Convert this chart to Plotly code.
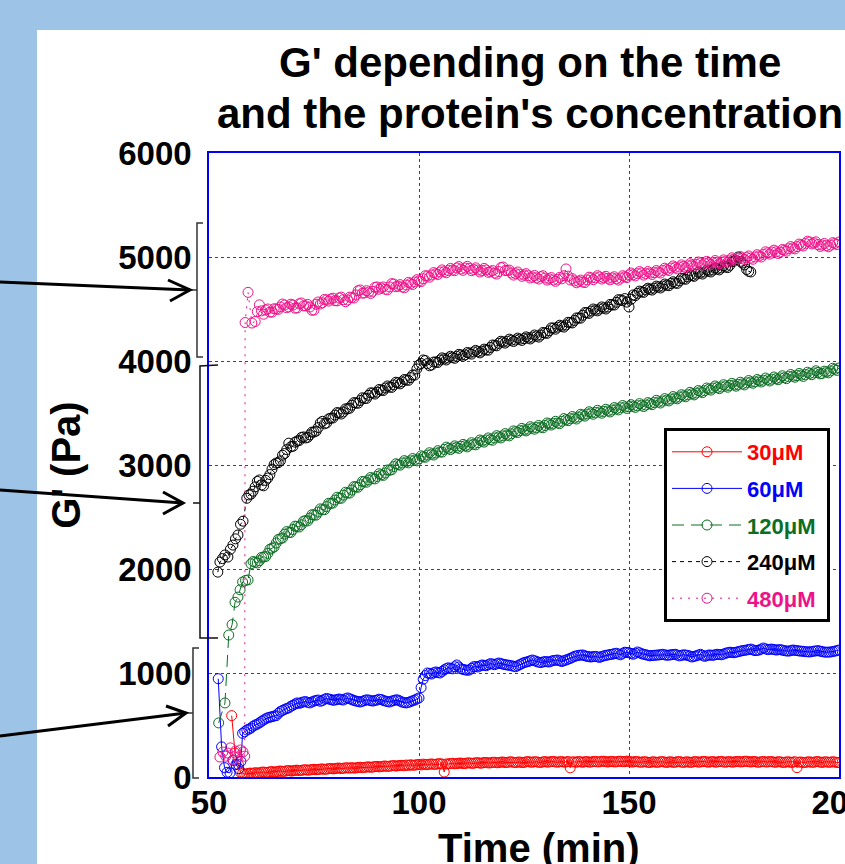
import plotly.graph_objects as go

# ---------------- data (half-minute sampling) ----------------
STEP = 0.5

# 30 uM
red_t_early = [55.4, 56.2, 57.0, 57.5]
red_v_early = [590, 230, 120, 45]
red_t0 = 58
red_v = [35, 28, 30, 36, 38, 33, 42, 37, 40, 46,
         48, 43, 45, 50, 52, 47, 50, 55, 58, 53,
         55, 60, 62, 57, 60, 64, 66, 61, 64, 68,
         70, 65, 68, 72, 74, 70, 72, 76, 78, 73,
         76, 80, 82, 78, 80, 85, 86, 81, 84, 88,
         88, 85, 90, 86, 87, 92, 94, 89, 92, 96,
         98, 93, 96, 100, 102, 97, 100, 104, 106, 101,
         104, 108, 110, 105, 108, 112, 112, 108, 115, 111,
         118, 113, 114, 119, 120, 116, 124, 120, 118, 123,
         126, 121, 122, 127, 128, 124, 48, 125, 126, 130,
         132, 127, 128, 133, 134, 129, 130, 135, 136, 131,
         132, 137, 138, 133, 134, 139, 140, 135, 136, 141,
         142, 137, 138, 143, 144, 139, 140, 145, 146, 141,
         138, 143, 144, 139, 140, 146, 148, 143, 142, 147,
         146, 141, 140, 145, 148, 143, 144, 149, 150, 145,
         142, 147, 148, 143, 144, 149, 88, 145, 146, 141,
         150, 145, 142, 147, 148, 143, 144, 149, 150, 145,
         146, 151, 152, 147, 144, 149, 150, 145, 146, 151,
         152, 147, 148, 153, 150, 145, 144, 149, 148, 143,
         142, 147, 146, 141, 140, 145, 146, 141, 142, 147,
         148, 143, 140, 145, 146, 141, 142, 147, 148, 143,
         140, 145, 146, 141, 142, 147, 148, 143, 144, 149,
         150, 145, 142, 147, 148, 143, 144, 149, 150, 145,
         142, 147, 148, 143, 144, 149, 150, 145, 146, 151,
         152, 147, 144, 149, 148, 143, 142, 147, 150, 145,
         144, 149, 148, 143, 142, 147, 146, 141, 140, 145,
         146, 141, 142, 147, 90, 143, 144, 139, 140, 145,
         146, 141, 142, 147, 148, 143, 140, 145, 146, 141,
         142, 147, 144, 139, 140]

# 60 uM
blue_t_early = [52.2, 53.0, 53.7, 54.3, 55.0, 55.7, 56.4, 57.1, 57.6]
blue_v_early = [945, 290, 90, 45, 40, 160, 120, 80, 150]
blue_t0 = 58
blue_v = [420, 435, 452, 460, 471, 488, 500, 508, 520, 535,
          548, 560, 570, 575, 580, 586, 590, 612, 630, 640,
          650, 658, 665, 680, 690, 702, 712, 708, 715, 722,
          725, 718, 712, 722, 730, 736, 740, 728, 735, 748,
          755, 750, 745, 738, 740, 746, 750, 744, 740, 752,
          760, 752, 745, 736, 730, 726, 721, 728, 735, 742,
          740, 734, 730, 736, 740, 748, 745, 736, 730, 725,
          721, 730, 735, 742, 740, 730, 720, 715, 712, 718,
          725, 733, 740, 750, 760, 860, 940, 975, 1000, 996,
          990, 1002, 1010, 1004, 1000, 1015, 1030, 1042, 1050, 1044,
          1040, 1060, 1077, 1058, 1040, 1035, 1030, 1026, 1029, 1045,
          1060, 1062, 1058, 1068, 1077, 1074, 1070, 1080, 1090, 1086,
          1080, 1088, 1096, 1090, 1085, 1080, 1077, 1074, 1070, 1065,
          1060, 1070, 1080, 1090, 1100, 1105, 1110, 1118, 1125, 1118,
          1110, 1104, 1100, 1106, 1110, 1108, 1106, 1114, 1120, 1122,
          1125, 1118, 1110, 1118, 1125, 1132, 1140, 1150, 1160, 1165,
          1170, 1172, 1173, 1166, 1160, 1156, 1154, 1158, 1160, 1155,
          1150, 1158, 1165, 1170, 1173, 1178, 1180, 1186, 1190, 1182,
          1175, 1188, 1200, 1198, 1195, 1188, 1180, 1190, 1202, 1194,
          1185, 1180, 1175, 1170, 1165, 1168, 1170, 1172, 1173, 1176,
          1180, 1175, 1170, 1172, 1175, 1178, 1180, 1172, 1165, 1170,
          1175, 1172, 1170, 1162, 1154, 1160, 1165, 1172, 1180, 1170,
          1160, 1166, 1173, 1172, 1170, 1175, 1180, 1178, 1175, 1182,
          1190, 1195, 1200, 1198, 1195, 1200, 1205, 1210, 1215, 1218,
          1221, 1226, 1230, 1222, 1215, 1218, 1221, 1230, 1240, 1232,
          1225, 1228, 1230, 1226, 1221, 1223, 1225, 1220, 1215, 1212,
          1210, 1215, 1221, 1218, 1215, 1212, 1210, 1208, 1205, 1204,
          1202, 1206, 1210, 1212, 1215, 1210, 1205, 1202, 1200, 1201,
          1202, 1206, 1210, 1215, 1221]

# 120 uM
green_t_early = [52.3, 53.8, 54.7, 55.5, 56.2, 56.9, 57.4, 58.0, 58.7, 59.3]
green_v_early = [520, 712, 1365, 1465, 1680, 1730, 1800, 1875, 1890, 1895]
green_t0 = 60
green_v = [2050, 2072, 2065, 2058, 2080, 2112, 2115, 2120, 2150, 2190,
           2200, 2212, 2250, 2285, 2290, 2298, 2335, 2360, 2350, 2352,
           2380, 2412, 2410, 2404, 2425, 2460, 2465, 2462, 2490, 2522,
           2520, 2518, 2548, 2578, 2570, 2570, 2600, 2632, 2630, 2634,
           2663, 2690, 2680, 2680, 2710, 2738, 2730, 2730, 2760, 2792,
           2790, 2786, 2810, 2842, 2840, 2834, 2856, 2880, 2870, 2866,
           2890, 2916, 2905, 2900, 2923, 2952, 2950, 2954, 2985, 3012,
           3005, 2998, 3019, 3042, 3030, 3020, 3040, 3062, 3048, 3040,
           3060, 3088, 3080, 3074, 3095, 3118, 3105, 3096, 3115, 3138,
           3125, 3124, 3150, 3172, 3160, 3148, 3163, 3184, 3170, 3160,
           3180, 3198, 3185, 3174, 3192, 3214, 3200, 3194, 3215, 3240,
           3230, 3220, 3240, 3260, 3245, 3238, 3260, 3282, 3270, 3260,
           3280, 3302, 3288, 3280, 3300, 3328, 3320, 3312, 3330, 3352,
           3337, 3328, 3345, 3368, 3355, 3344, 3360, 3380, 3365, 3358,
           3380, 3404, 3395, 3384, 3400, 3420, 3404, 3398, 3420, 3446,
           3435, 3426, 3445, 3466, 3452, 3442, 3462, 3488, 3480, 3470,
           3490, 3512, 3500, 3488, 3505, 3526, 3510, 3498, 3515, 3536,
           3520, 3510, 3529, 3552, 3540, 3530, 3550, 3572, 3558, 3544,
           3560, 3580, 3565, 3554, 3570, 3590, 3575, 3562, 3577, 3600,
           3590, 3580, 3600, 3622, 3606, 3596, 3615, 3638, 3625, 3616,
           3635, 3658, 3644, 3636, 3654, 3676, 3665, 3656, 3675, 3698,
           3685, 3674, 3692, 3716, 3705, 3696, 3715, 3740, 3730, 3720,
           3740, 3760, 3745, 3734, 3750, 3772, 3760, 3748, 3765, 3785,
           3769, 3758, 3775, 3796, 3780, 3770, 3790, 3812, 3798, 3786,
           3800, 3822, 3810, 3798, 3815, 3836, 3820, 3808, 3825, 3846,
           3830, 3820, 3837, 3858, 3840, 3830, 3850, 3870, 3855, 3844,
           3860, 3880, 3865, 3852, 3870, 3892, 3880, 3868, 3885, 3906,
           3890, 3876, 3880, 3902, 3895, 3886, 3905, 3930, 3920, 3910,
           3933]

# 240 uM
black_t_early = [52.1, 52.6, 53.2, 53.8, 54.5, 55.1, 55.7, 56.3, 56.9, 57.5, 58.1]
black_v_early = [1970, 2067, 2100, 2135, 2115, 2190, 2230, 2290, 2327, 2430, 2460]
black_t0 = 59
black_v = [2680, 2712, 2720, 2748, 2790, 2842, 2856, 2808, 2800, 2852,
           2875, 2908, 2960, 3004, 3019, 3022, 3040, 3094, 3110, 3148,
           3210, 3176, 3180, 3220, 3230, 3236, 3265, 3270, 3260, 3266,
           3290, 3316, 3317, 3326, 3360, 3404, 3420, 3396, 3404, 3444,
           3450, 3452, 3480, 3504, 3500, 3490, 3510, 3540, 3540, 3546,
           3575, 3600, 3596, 3594, 3620, 3646, 3640, 3640, 3670, 3694,
           3692, 3682, 3700, 3726, 3720, 3716, 3740, 3760, 3750, 3746,
           3770, 3796, 3790, 3780, 3800, 3822, 3817, 3814, 3840, 3866,
           3865, 3924, 3962, 3976, 4010, 4004, 3975, 3954, 3962, 3990,
           3990, 3986, 4010, 4030, 4020, 4010, 4029, 4046, 4035, 4026,
           4045, 4064, 4058, 4046, 4060, 4082, 4075, 4066, 4087, 4102,
           4090, 4078, 4095, 4114, 4106, 4104, 4130, 4154, 4150, 4146,
           4170, 4190, 4183, 4172, 4190, 4210, 4200, 4188, 4202, 4220,
           4210, 4198, 4215, 4232, 4221, 4212, 4230, 4250, 4240, 4230,
           4250, 4274, 4270, 4266, 4290, 4318, 4317, 4306, 4325, 4344,
           4335, 4326, 4346, 4372, 4370, 4366, 4390, 4414, 4413, 4412,
           4440, 4466, 4465, 4458, 4480, 4500, 4490, 4482, 4500, 4520,
           4510, 4500, 4519, 4544, 4540, 4538, 4565, 4590, 4587, 4580,
           4600, 4566, 4519, 4594, 4635, 4628, 4650, 4672, 4665, 4660,
           4683, 4700, 4690, 4682, 4700, 4720, 4712, 4702, 4720, 4740,
           4730, 4724, 4745, 4762, 4750, 4746, 4770, 4794, 4790, 4786,
           4808, 4828, 4820, 4814, 4835, 4854, 4846, 4836, 4855, 4874,
           4865, 4856, 4875, 4894, 4885, 4876, 4895, 4914, 4904, 4898,
           4920, 4954, 4960, 4966, 5000, 4958, 4942, 4924, 4880, 4862,
           4856]

# 480 uM
pink_t_early = [52.6, 53.3, 54.0, 54.5, 55.1, 55.7, 56.3, 56.9, 57.5, 58.1, 58.5,
                58.6, 59.3, 60.2]
pink_v_early = [192, 240, 200, 230, 280, 163, 250, 192, 260, 240, 200,
                4370, 4660, 4365]
pink_t0 = 61
pink_v = [4380, 4474, 4540, 4482, 4450, 4490, 4500, 4470, 4470, 4502,
          4500, 4496, 4520, 4548, 4538, 4512, 4520, 4546, 4538, 4508,
          4510, 4550, 4558, 4530, 4530, 4544, 4519, 4488, 4490, 4546,
          4567, 4548, 4560, 4592, 4587, 4576, 4596, 4604, 4580, 4578,
          4606, 4614, 4590, 4570, 4587, 4614, 4610, 4606, 4635, 4676,
          4683, 4652, 4654, 4676, 4663, 4650, 4670, 4708, 4712, 4690,
          4702, 4712, 4690, 4684, 4712, 4744, 4740, 4714, 4720, 4734,
          4712, 4704, 4731, 4756, 4745, 4736, 4760, 4782, 4770, 4764,
          4790, 4820, 4817, 4806, 4827, 4850, 4840, 4832, 4856, 4876,
          4860, 4848, 4870, 4890, 4875, 4868, 4894, 4908, 4885, 4872,
          4894, 4910, 4890, 4868, 4880, 4896, 4875, 4856, 4870, 4890,
          4875, 4852, 4860, 4870, 4846, 4836, 4860, 4898, 4904, 4870,
          4870, 4874, 4846, 4826, 4840, 4856, 4835, 4814, 4827, 4840,
          4820, 4798, 4808, 4822, 4800, 4788, 4810, 4820, 4798, 4778,
          4790, 4802, 4779, 4766, 4785, 4804, 4790, 4820, 4885, 4816,
          4779, 4792, 4770, 4752, 4765, 4778, 4760, 4754, 4780, 4806,
          4798, 4782, 4800, 4820, 4808, 4788, 4800, 4814, 4795, 4780,
          4798, 4810, 4790, 4778, 4798, 4820, 4810, 4802, 4827, 4846,
          4830, 4818, 4840, 4860, 4846, 4826, 4840, 4860, 4846, 4832,
          4850, 4870, 4856, 4846, 4870, 4892, 4880, 4870, 4894, 4914,
          4900, 4886, 4904, 4924, 4910, 4896, 4915, 4936, 4923, 4910,
          4930, 4952, 4942, 4924, 4940, 4958, 4942, 4928, 4945, 4966,
          4950, 4936, 4952, 4972, 4960, 4950, 4971, 4992, 4980, 4966,
          4985, 5004, 4990, 4976, 4995, 5010, 4990, 4978, 5000, 5022,
          5010, 5000, 5025, 5050, 5040, 5028, 5048, 5066, 5050, 5034,
          5048, 5072, 5065, 5056, 5080, 5100, 5087, 5078, 5100, 5124,
          5115, 5106, 5130, 5152, 5144, 5126, 5135, 5146, 5120, 5102,
          5115, 5130, 5110, 5098, 5115, 5138, 5130, 5120, 5144]

series_names = ["30μM", "60μM", "120μM", "240μM", "480μM"]
x_ticks = [50, 100, 150, 200]
y_ticks = [0, 1000, 2000, 3000, 4000, 5000, 6000]

# ---------------- figure ----------------
W, H = 845, 864
L, R, T, B = 209, 839, 153, 777   # plot area in pixels


def px(x):
    return (x - L) / (R - L)


def py(y):
    return (B - y) / (B - T)


FONT = "Liberation Sans, Arial, Helvetica, sans-serif"
series = [
    (series_names[0], red_t_early, red_v_early, red_t0, red_v, "#FF0000", "solid"),
    (series_names[1], blue_t_early, blue_v_early, blue_t0, blue_v, "#0000FF", "solid"),
    (series_names[2], green_t_early, green_v_early, green_t0, green_v, "#0C6E23", "12px,7px"),
    (series_names[3], black_t_early, black_v_early, black_t0, black_v, "#000000", "4px,4px"),
    (series_names[4], pink_t_early, pink_v_early, pink_t0, pink_v, "#EE1289", "2px,6px"),
]

fig = go.Figure()
for i, (name, te, ve, t0, vals, col, dash) in enumerate(series):
    tt = list(te) + [t0 + STEP * k for k in range(len(vals))]
    vv = list(ve) + list(vals)
    fig.add_trace(go.Scatter(
        x=tt, y=vv, mode="lines+markers",
        name=f'<span style="color:{col}">{name}</span>&nbsp;',
        legendgroup=f"g{i}",
        line=dict(color=col, width=1, dash=dash),
        marker=dict(symbol="circle-open", size=10, color=col, line=dict(width=1, color=col)),
    ))

shapes = []
# white slide panel
shapes.append(dict(type="rect", xref="paper", yref="paper", layer="below",
                   x0=px(37), x1=px(1000), y0=py(1000), y1=py(30),
                   fillcolor="white", line=dict(width=0)))


def seg(points, width, color="black"):
    path = "M " + " L ".join(f"{px(a):.5f},{py(b):.5f}" for a, b in points)
    return dict(type="path", xref="paper", yref="paper", path=path,
                line=dict(color=color, width=width), layer="above")


# brackets
shapes.append(seg([(203, 223), (197, 223), (197, 357), (203, 357)], 1.5, "#333333"))
shapes.append(seg([(197, 290), (190, 290)], 1.5, "#333333"))
shapes.append(seg([(218, 365), (200, 366), (200, 638), (218, 638)], 1.5, "#111111"))
shapes.append(seg([(200, 503), (193, 503)], 1.5, "#111111"))
shapes.append(seg([(199, 648), (193, 648), (193, 778), (199, 778)], 1.5, "#333333"))
shapes.append(seg([(193, 713), (186, 713)], 1.5, "#333333"))
# arrows
shapes.append(seg([(0, 282), (190, 290)], 3))
shapes.append(seg([(168, 280), (190, 290), (170, 301)], 3))
shapes.append(seg([(0, 490), (183, 503)], 3))
shapes.append(seg([(163, 492), (183, 503), (163, 514)], 3))
shapes.append(seg([(0, 736), (186, 713)], 3))
shapes.append(seg([(166, 706), (186, 713), (168, 726)], 3))

annotations = [
    dict(text="<b>G' depending on the time</b>", xref="paper", yref="paper",
         x=px(530), y=py(62), xanchor="center", yanchor="middle", showarrow=False,
         font=dict(family=FONT, size=42, color="black")),
    dict(text="<b>and the protein's concentration</b>", xref="paper", yref="paper",
         x=px(530), y=py(113), xanchor="center", yanchor="middle", showarrow=False,
         font=dict(family=FONT, size=42, color="black")),
    # x-axis title (sits partly below the slide edge, as in the reference)
    dict(text="<b>Time (min)</b>", xref="paper", yref="paper",
         x=px(539), y=py(824), xanchor="center", yanchor="top", showarrow=False,
         font=dict(family=FONT, size=40, color="black")),
]

axis_common = dict(showline=True, mirror=True, linecolor="#0000FF", linewidth=1.5,
                   showgrid=True, gridcolor="#2D2DFF", griddash="3px,3px", gridwidth=1,
                   zeroline=False, ticks="", automargin=False, ticklabeloverflow="allow",
                   tickfont=dict(family=FONT, size=33, color="black", weight="bold"))

fig.update_layout(
    width=W, height=H,
    margin=dict(l=L, r=W - R, t=T, b=H - B, pad=0, autoexpand=False),
    paper_bgcolor="#9DC3E6", plot_bgcolor="white",
    showlegend=True,
    legend=dict(x=px(664), y=py(428), xanchor="left", yanchor="top",
                bgcolor="white", bordercolor="black", borderwidth=3,
                font=dict(family=FONT, size=22, color="black", weight="bold"),
                traceorder="grouped", tracegroupgap=5, itemwidth=70),
    shapes=shapes, annotations=annotations,
)
fig.update_xaxes(range=[50, 200], tickvals=x_ticks, ticklabelstandoff=-4,
                 **axis_common)
fig.update_yaxes(range=[0, 6000], tickvals=y_ticks, ticklabelstandoff=9,
                 title=dict(text="<b>G' (Pa)</b>", standoff=25,
                            font=dict(family=FONT, size=40, color="black")),
                 **axis_common)

fig.write_html("out.html",
               config={"displayModeBar": False},
               post_script="document.body.style.margin='0px';"
                           "document.body.style.overflow='hidden';")
